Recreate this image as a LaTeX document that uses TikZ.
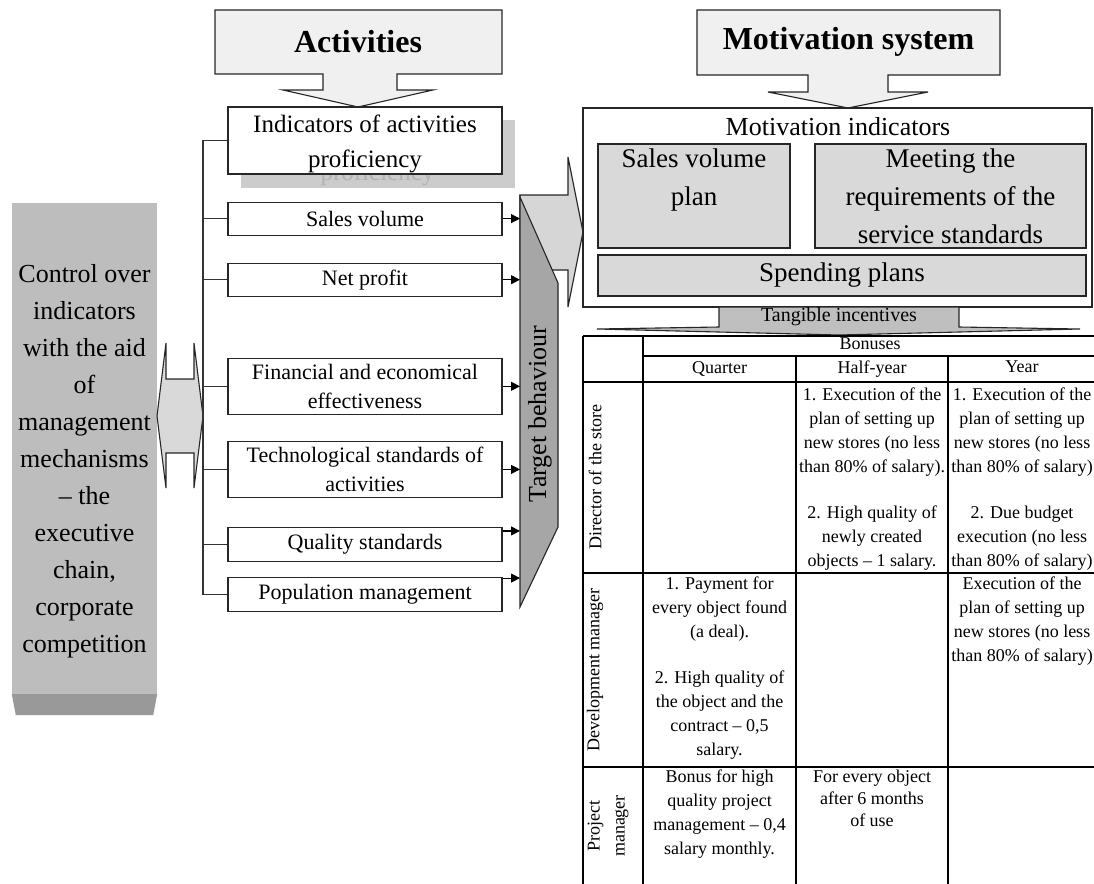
\documentclass[tikz,border=0pt]{standalone}
\usepackage{fontspec}
\setmainfont{Liberation Serif}
\usetikzlibrary{arrows.meta,positioning,calc}
\tikzset{
  blk/.style={draw=black!85,line width=1.1pt,fill=white,align=center,inner sep=1pt,font=\fontsize{22}{29}\selectfont},
  actblk/.style={blk,minimum width=274pt},
  indblk/.style={actblk,font=\fontsize{25}{35}\selectfont},
  motblk/.style={draw=black!85,line width=1.1pt,fill=black!15,align=center,font=\fontsize{27}{38}\selectfont},
  cotblk/.style={draw=black!85,line width=1.1pt,fill=black!6},
  hdrtxt/.style={font=\fontsize{32}{36}\selectfont\bfseries},
  arr/.style={-{Triangle[length=9pt,width=9pt]},line width=1.1pt},
  lnk/.style={line width=1.2pt,draw=black!80},
  tbl/.style={line width=1.3pt},
  tcell/.style={align=center,inner sep=0pt,anchor=north,font=\fontsize{18}{24}\selectfont},
  rowlbl/.style={align=center,rotate=90,font=\fontsize{18}{25}\selectfont}
}
\begin{document}
\begin{tikzpicture}[x=1pt,y=-1pt]
  \useasboundingbox (0,0) rectangle (1094,883);

  \node[fill=black!26,minimum width=145pt,minimum height=491pt] (ctrl) at (84.5,448.5) {};
  \fill[black!40] (ctrl.south west) -- (ctrl.south east) -- ++(-4,21) -- ($(ctrl.south west)+(4,21)$) -- cycle;
  \node[align=center,font=\fontsize{26}{37}\selectfont] (ctrltxt) at (84.5,461) {Control over\\indicators\\with the aid\\of\\management\\mechanisms\\-- the\\executive\\chain,\\corporate\\competition};
  \draw[cotblk,fill=black!15] (166,379) -- (194,379) -- (194,343) -- (203,416) -- (194,488) -- (194,453)
    -- (166,453) -- (166,488) -- (157,416) -- (166,343) -- cycle;

  \draw[cotblk] (215,10) -- (502,10) -- (502,74) -- (397,74) -- (397,90) -- (433,90) -- (358,107)
    -- (283,90) -- (323,90) -- (323,74) -- (215,74) -- cycle;
  \node[hdrtxt] (act) at (358,42) {Activities};

  \node[indblk,draw=none,fill=black!20,text=black!30,minimum height=68pt] (indsh) at (377.5,154) {\rule{0pt}{24pt}Indicators of activities\\proficiency};
  \node[indblk,minimum height=67pt] (ind) at (365,140.5) {\rule{0pt}{24pt}Indicators of activities\\proficiency};
  \node[actblk,minimum height=33pt,below=27pt of ind] (sv) {Sales volume};
  \node[actblk,minimum height=33pt,below=27pt of sv] (np) {Net profit};
  \node[actblk,minimum height=56pt,below=61pt of np] (fin) {Financial and economical\\effectiveness};
  \node[actblk,minimum height=56pt,below=26pt of fin] (tech) {Technological standards of\\activities};
  \node[actblk,minimum height=34pt,below=29pt of tech] (qual) {Quality standards};
  \node[actblk,minimum height=34pt,below=15pt of qual] (pop) {Population management};

  \coordinate (trk) at (203,0);
  \draw[lnk] (ind.west) -- (ind.west -| trk) -- (pop.west -| trk) -- (pop.west);
  \foreach \b in {sv,np,fin,tech,qual} \draw[lnk] (\b.west) -- (\b.west -| trk);

  \draw[cotblk,fill=black!16] (520,195) -- (568,195) -- (568,157) -- (583,232) -- (568,307) -- (568,270) -- (520,270) -- cycle;
  \draw[cotblk,fill=black!35] (520,197) -- (558,283) -- (558,527) -- (520,607) -- cycle;
  \node[rotate=90,font=\fontsize{26}{30}\selectfont] (tb) at (540,414) {Target behaviour};

  \coordinate (tgt) at (520,0);
  \foreach \b in {sv,np,fin,tech} \draw[arr] (\b.east) -- (\b.east -| tgt);
  \coordinate (qa) at ([yshift=-4pt]qual.north east);
  \coordinate (pa) at ([yshift=-1pt]pop.north east);
  \draw[arr] (qa) -- (qa -| tgt);
  \draw[arr] (pa) -- (pa -| tgt);

  \draw[cotblk] (697,10) -- (1000,10) -- (1000,75) -- (888,75) -- (888,92) -- (928,92) -- (848,108)
    -- (768,92) -- (808,92) -- (808,75) -- (697,75) -- cycle;
  \node[hdrtxt] (mot) at (848.5,42) {Motivation system};
  \node[draw=black!85,line width=1.1pt,minimum width=509pt,minimum height=199pt] (motb) at (837.5,207.5) {};
  \node[font=\fontsize{26}{30}\selectfont] (motl) at (838,127) {Motivation indicators};
  \node[motblk,minimum width=192pt,minimum height=104pt] (svp) at (694,196) {Sales volume\\plan\\\mbox{}};
  \node[motblk,minimum width=271pt,minimum height=104pt] (meet) at (950.5,196) {Meeting the\\requirements of the\\service standards};
  \node[motblk,minimum width=488pt,minimum height=41pt] (spp) at (842,275.5) {Spending plans};

  \draw[cotblk,fill=black!25] (719,307) -- (959,307) -- (959,327) -- (1080,329) -- (839,335) -- (597,329) -- (719,327) -- cycle;
  \node[font=\fontsize{20}{24}\selectfont] (tang) at (839,317) {Tangible incentives};

  \draw[tbl] (583,336) -- (1097,336) (643,356) -- (1097,356) (583,382) -- (1097,382)
    (583,573) -- (1097,573) (583,767) -- (1097,767);
  \foreach \cx in {583,643} \draw[tbl] (\cx,336) -- (\cx,890);
  \foreach \cx in {796,948} \draw[tbl] (\cx,356) -- (\cx,890);

  \node[tcell] (bon) at (870,338) {Bonuses};
  \node[tcell] (hq) at (719.5,361) {Quarter};
  \node[tcell] (hh) at (872,361) {Half-year};
  \node[tcell] (hy) at (1022,361) {Year};

  \node[rowlbl] (dir) at (595,477) {Director of the store};
  \node[tcell] (dirh) at (872,388) {1. Execution of the\\plan of setting up\\new stores (no less\\than 80\% of salary).\\[22pt]2. High quality of\\newly created\\objects -- 1 salary.};
  \node[tcell] (diry) at (1022,388) {1. Execution of the\\plan of setting up\\new stores (no less\\than 80\% of salary)\\[22pt]2. Due budget\\execution (no less\\than 80\% of salary)};

  \node[rowlbl] (dev) at (595,670) {Development manager};
  \node[tcell] (devq) at (719.5,577) {1. Payment for\\every object found\\(a deal).\\[22pt]2. High quality of\\the object and the\\contract -- 0,5\\salary.};
  \node[tcell] (devy) at (1022,577) {Execution of the\\plan of setting up\\new stores (no less\\than 80\% of salary)};

  \node[rowlbl] (pm) at (608,826) {Project\\manager};
  \node[tcell] (pmq) at (719.5,770) {Bonus for high\\quality project\\management -- 0,4\\salary monthly.};
  \node[tcell,font=\fontsize{18}{22}\selectfont] (pmh) at (872,770) {For every object\\after 6 months\\of use};
\end{tikzpicture}
\end{document}
